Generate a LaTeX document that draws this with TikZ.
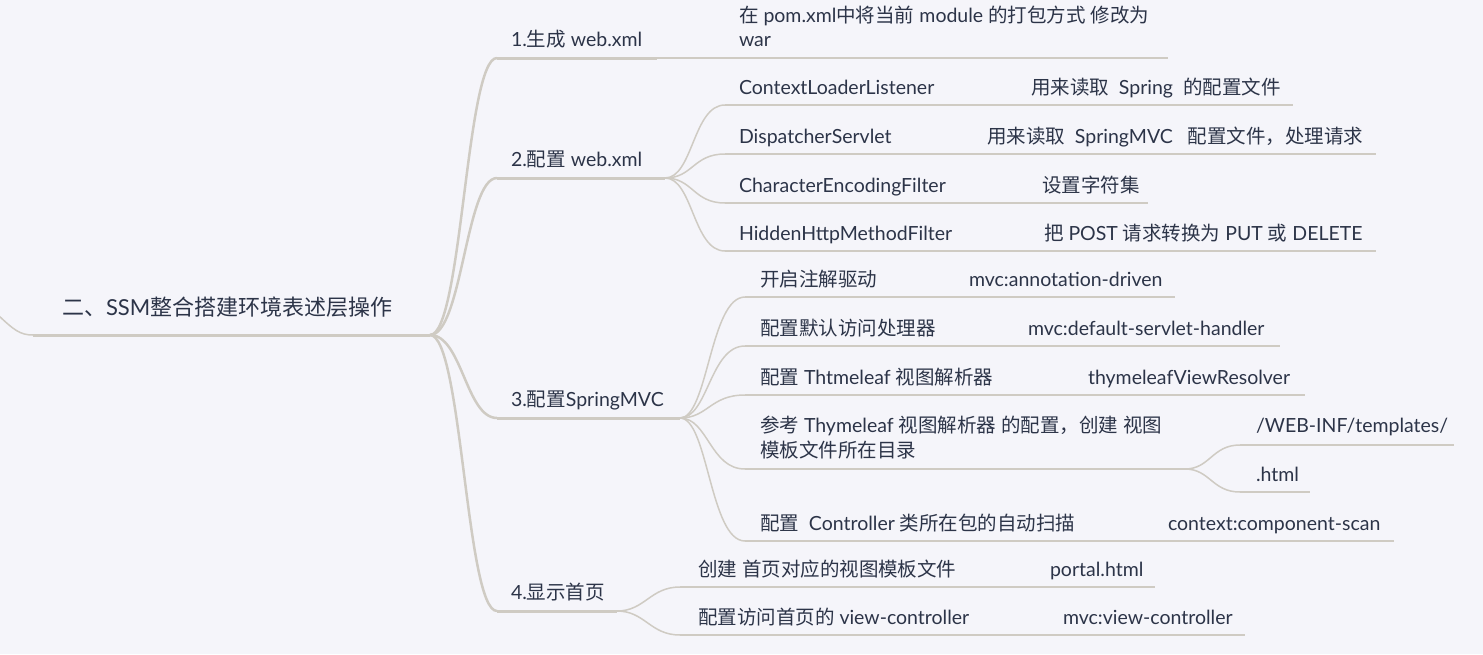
\documentclass[tikz,border=0pt]{standalone}
\usepackage{fontspec}
\setmainfont{Lato}
\newfontfamily\zh{Noto Sans CJK SC}
\newcommand\Z[1]{{\zh #1}}
\definecolor{bg}{RGB}{245,245,250}
\definecolor{ln}{RGB}{207,203,195}
\definecolor{tx}{RGB}{44,52,72}
\begin{document}
\begin{tikzpicture}[x=1pt,y=-1pt,
  every node/.style={inner sep=0pt,outer sep=0pt,anchor=base west,text=tx},
  itm/.style={font=\fontsize{19.5}{24}\selectfont},
  roottxt/.style={font=\fontsize{22}{26}\selectfont},
  rootline/.style={draw=ln,line width=3pt},
  mainconn/.style={draw=ln,line width=2.5pt},
  lvlline/.style={draw=ln,line width=3pt},
  subconn/.style={draw=ln,line width=1.5pt},
  subline/.style={draw=ln,line width=1.5pt}]
\fill[bg] (0,0) rectangle (1483,654);
\useasboundingbox (0,0) rectangle (1483,654);

% root
\node[roottxt] (root) at (62,315) {\Z{二、}SSM\Z{整合搭建环境表述层操作}};
\coordinate (rin) at (-2,315);
\coordinate (rs) at (33,335);
\coordinate (re) at (430,335);
\draw[subconn] (rin) .. controls (14,330) and (20,335) .. (rs);
\draw[rootline] (rs) -- (re);

% level 1
\node[itm] (n1) at (511,46) {1.\Z{生成} web.xml};
\node[itm] (n2) at (511,166) {2.\Z{配置} web.xml};
\node[itm] (n3) at (511,406) {3.\Z{配置}SpringMVC};
\node[itm] (n4) at (511,599) {4.\Z{显示首页}};
\coordinate (n1s) at (497,58);  \coordinate (n1e) at (657,58);
\coordinate (n2s) at (497,178); \coordinate (n2e) at (665,178);
\coordinate (n3s) at (497,418); \coordinate (n3e) at (680,418);
\coordinate (n4s) at (497,611); \coordinate (n4e) at (617,611);
\foreach \n in {n1,n2,n3,n4}{
  \draw[mainconn] (re) .. controls +(32,0) and +(-31,0) .. (\n s);
  \draw[lvlline] (\n s) -- (\n e);
}

% branch 1
\node[itm] (c1a) at (739,22) {\Z{在} pom.xml\Z{中将当前} module \Z{的打包方式} \Z{修改为}};
\node[itm] (c1b) at (739,46) {war};
\coordinate (c1e) at (1168,58);
\draw[subline] (n1e) -- (c1e);

% branch 2
\node[itm] (c21a) at (739,94) {ContextLoaderListener};
\node[itm] (c21b) at (1031,94) {\Z{用来读取}\ \ Spring\ \ \Z{的配置文件}};
\node[itm] (c22a) at (739,143) {DispatcherServlet};
\node[itm] (c22b) at (987,143) {\Z{用来读取}\ \ SpringMVC\ \ \ \Z{配置文件，处理请求}};
\node[itm] (c23a) at (739,192) {CharacterEncodingFilter};
\node[itm] (c23b) at (1042,192) {\Z{设置字符集}};
\node[itm] (c24a) at (739,240) {HiddenHttpMethodFilter};
\node[itm] (c24b) at (1044,240) {\Z{把} POST \Z{请求转换为} PUT \Z{或} DELETE};
\foreach \c/\y/\e in {c21/105/1293,c22/154/1376,c23/203/1148,c24/251/1376}{
  \coordinate (\c s) at (725,\y);
  \coordinate (\c e) at (\e,\y);
  \draw[subconn] (n2e) .. controls +(28,0) and +(-32,0) .. (\c s);
  \draw[subline] (\c s) -- (\c e);
}

% branch 3
\node[itm] (c31a) at (760,286) {\Z{开启注解驱动}};
\node[itm] (c31b) at (969,286) {mvc:annotation-driven};
\node[itm] (c32a) at (760,335) {\Z{配置默认访问处理器}};
\node[itm] (c32b) at (1028,335) {mvc:default-servlet-handler};
\node[itm] (c33a) at (760,384) {\Z{配置} Thtmeleaf \Z{视图解析器}};
\node[itm] (c33b) at (1088,384) {thymeleafViewResolver};
\node[itm] (c34a) at (760,432) {\Z{参考} Thymeleaf \Z{视图解析器} \Z{的配置，创建} \Z{视图}};
\node[itm] (c34b) at (760,457) {\Z{模板文件所在目录}};
\node[itm] (c35a) at (760,530) {\Z{配置}\ \ Controller \Z{类所在包的自动扫描}};
\node[itm] (c35b) at (1168,530) {context:component-scan};
\foreach \c/\y/\e in {c31/297/1175,c32/346/1280,c33/395/1305,c34/469/1185,c35/541/1394}{
  \coordinate (\c s) at (745,\y);
  \coordinate (\c e) at (\e,\y);
  \draw[subconn] (n3e) .. controls +(28,0) and +(-35,0) .. (\c s);
  \draw[subline] (\c s) -- (\c e);
}
\node[itm] (c341) at (1256,432) {/WEB-INF/templates/};
\node[itm] (c342) at (1256,481) {.html};
\coordinate (c341s) at (1240,445); \coordinate (c341e) at (1454,445);
\coordinate (c342s) at (1240,492); \coordinate (c342e) at (1310,492);
\foreach \c in {c341,c342}{
  \draw[subconn] (c34e) .. controls +(25,0) and +(-28,0) .. (\c s);
  \draw[subline] (\c s) -- (\c e);
}

% branch 4
\node[itm] (c41a) at (698,576) {\Z{创建} \Z{首页对应的视图模板文件}};
\node[itm] (c41b) at (1050,576) {portal.html};
\node[itm] (c42a) at (698,624) {\Z{配置访问首页的} view-controller};
\node[itm] (c42b) at (1063,624) {mvc:view-controller};
\foreach \c/\y/\e in {c41/587/1155,c42/635/1245}{
  \coordinate (\c s) at (680,\y);
  \coordinate (\c e) at (\e,\y);
  \draw[subconn] (n4e) .. controls +(28,0) and +(-30,0) .. (\c s);
  \draw[subline] (\c s) -- (\c e);
}
\end{tikzpicture}
\end{document}
